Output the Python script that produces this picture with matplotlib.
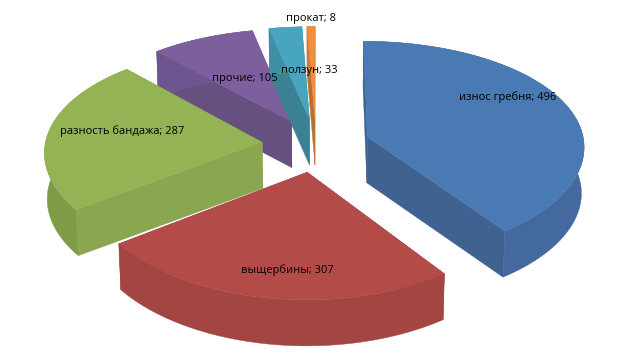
import numpy as np
import matplotlib
matplotlib.use('Agg')
import matplotlib.pyplot as plt

# data
names = ['износ гребня', 'выщербины', 'разность бандажа', 'прочие', 'ползун', 'прокат']
values = [496, 307, 287, 105, 33, 8]

# slice styles, same order as values: top, cut face, outer wall
top_colors = ['#4a7ab4', '#b34c49', '#94b355', '#7d5f9e', '#48a5bf', '#ee8e3e']
face_colors = ['#3f6290', '#a04341', '#8aa650', '#66507f', '#3a8193', '#b8702f']
wall_colors = ['#44699f', '#a24543', '#7f9b48', '#6f5590', '#3f8fa5', '#c97a35']
label_pos = [(508, 97), (287, 270), (122, 131), (245, 79), (309, 71), (311, 18)]

# projection of the flat pie to the picture
cx, cy = 316, 145
rx, ry = 217, 107.5
persp_x = 0.08
persp_y = 0.108
explode = 0.25
depth = 46
shrink = 0.99

def project(u, v, low=False):
    x = rx * u / (1 + persp_x * v)
    y = -ry * v / (1 + persp_y * v)
    if low:
        return cx + x * shrink, cy + y + depth
    return cx + x, cy + y

def slice_polys(t1, t2):
    mid = (t1 + t2) / 2
    ou, ov = explode * np.sin(mid), explode * np.cos(mid)
    th = np.linspace(t1, t2, 80)
    au, av = ou + np.sin(th), ov + np.cos(th)
    top_x, top_y = project(au, av)
    low_x, low_y = project(au, av, True)
    ax0, ay0 = project(ou, ov)
    bx0, by0 = project(ou, ov, True)
    top = (np.r_[ax0, top_x], np.r_[ay0, top_y])
    wall = (np.r_[top_x, low_x[::-1]], np.r_[top_y, low_y[::-1]])
    face1 = ([ax0, top_x[0], low_x[0], bx0], [ay0, top_y[0], low_y[0], by0])
    face2 = ([ax0, top_x[-1], low_x[-1], bx0], [ay0, top_y[-1], low_y[-1], by0])
    return top, wall, face1, face2

fig = plt.figure(figsize=(6.33, 3.58), dpi=100)
ax = fig.add_axes([0, 0, 1, 1])
ax.set_xlim(0, 633)
ax.set_ylim(358, 0)
ax.axis('off')

edges = np.r_[0, np.cumsum(values)] / np.sum(values) * 2 * np.pi

# back slices first so the front ones cover them
for i in [3, 4, 5, 2, 0, 1]:
    top, wall, face1, face2 = slice_polys(edges[i], edges[i + 1])
    ax.fill(*face2, color=face_colors[i], lw=0.3)
    ax.fill(*face1, color=face_colors[i], lw=0.3)
    ax.fill(*wall, color=wall_colors[i], lw=0.3)
    ax.fill(*top, color=top_colors[i], lw=0.3)

for name, val, (x, y) in zip(names, values, label_pos):
    ax.text(x, y, '{}; {}'.format(name, val), ha='center', va='center',
            fontsize=8, family='Open Sans', color='black')

fig.savefig('out.png', dpi=100)
